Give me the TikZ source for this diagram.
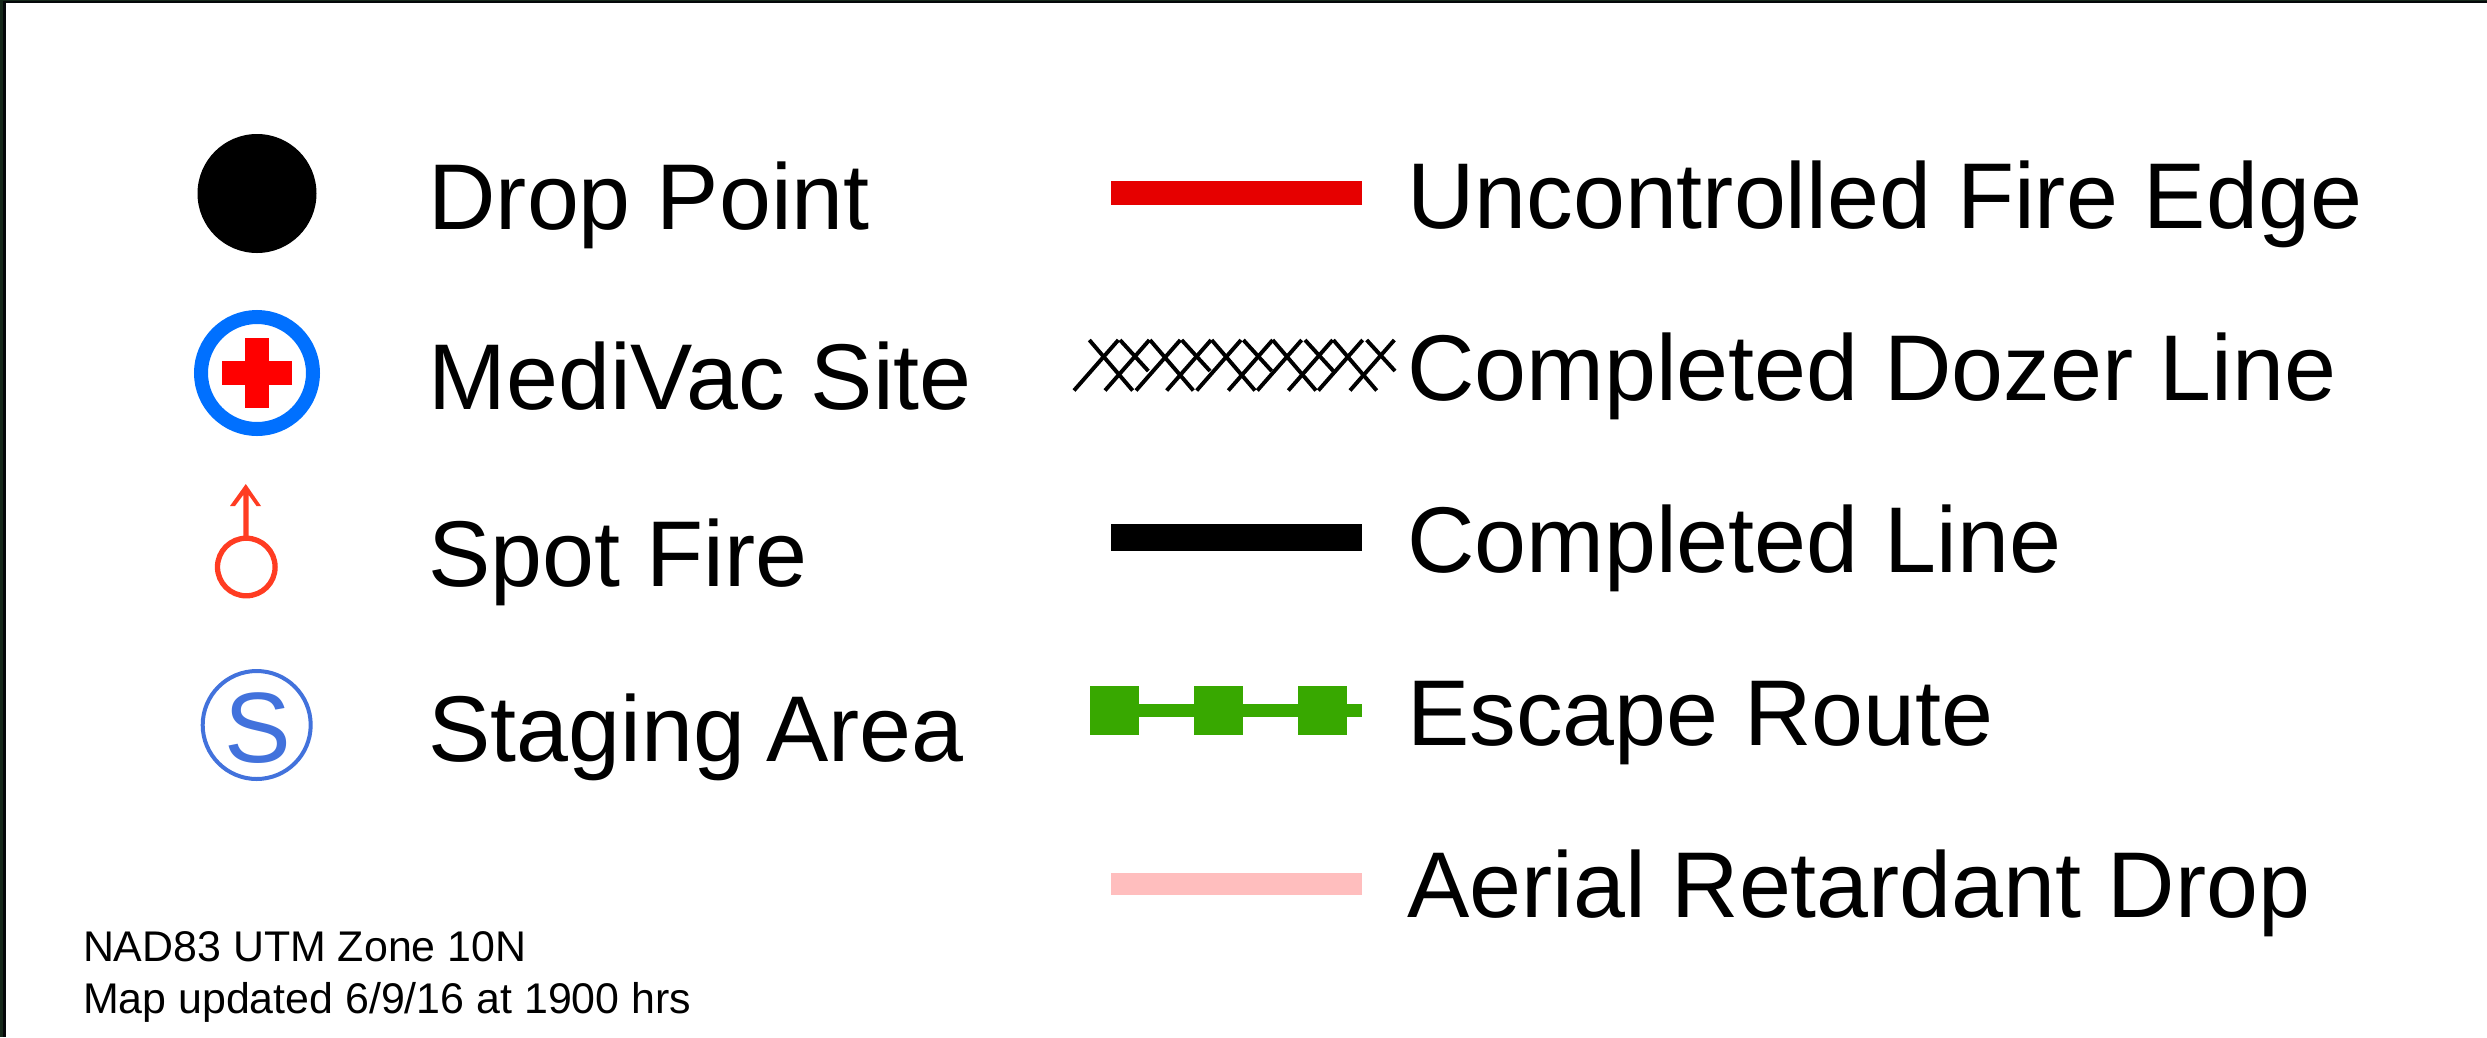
\documentclass[tikz,border=0pt]{standalone}
\usepackage{fontspec}
\setmainfont{Liberation Sans}
\definecolor{edgedark}{HTML}{05080A}
\definecolor{edgegreen}{HTML}{16291B}
\definecolor{medblue}{HTML}{0070FF}
\definecolor{crossred}{HTML}{FF0000}
\definecolor{spotred}{HTML}{FF3C22}
\definecolor{stageblue}{HTML}{4272DC}
\definecolor{fireline}{HTML}{E60000}
\definecolor{routegreen}{HTML}{38A800}
\definecolor{dropPink}{HTML}{FFBEBE}
\tikzset{
  biglabel/.style={anchor=base west,inner sep=0pt,outer sep=0pt,font=\fontsize{93.4pt}{100pt}\selectfont,text=black},
  smalllabel/.style={anchor=base west,inner sep=0pt,outer sep=0pt,font=\fontsize{42.9pt}{50pt}\selectfont,text=black},
  hatch/.style={black,line width=3.9pt,line cap=butt},
  routebox/.style={fill=routegreen,draw=none}
}
\begin{document}
\begin{tikzpicture}[x=1pt,y=-1pt]
\useasboundingbox (0,0) rectangle (2487,1037);
\fill[white] (0,0) rectangle (2487,1037);
\fill[edgedark] (0,0) rectangle (2487,3.3);
\fill[edgedark] (0,0) rectangle (6,1037);
\fill[edgegreen] (0,0) rectangle (3.2,1037);
\fill[edgegreen] (0,0) rectangle (2487,1);
% left symbols
\fill[black] (257,193.5) circle[radius=59.5];
\draw[medblue,line width=14pt] (257,373) circle[radius=56];
\fill[crossred] (245.3,338) rectangle (269,408);
\fill[crossred] (222,361.3) rectangle (292,384.7);
\draw[spotred,line width=5.3pt] (246.3,567) circle[radius=28.8];
\fill[spotred] (245.8,484) -- (261,506) -- (256.5,506) -- (248.7,495) -- (248.7,538) -- (243.3,538) -- (243.3,495) -- (235,506) -- (230,506) -- cycle;
\draw[stageblue,line width=4pt] (256.7,725) circle[radius=54];
\node[anchor=base,inner sep=0pt,text=stageblue,font=\fontsize{100pt}{100pt}\selectfont] (stageS) at (258,762) {S};
% left labels
\node[biglabel] (droplabel) at (428.5,229.5) {Drop Point};
\node[biglabel] (medilabel) at (428.5,409.5) {MediVac Site};
\node[biglabel] (spotlabel) at (428.5,586.5) {Spot Fire};
\node[biglabel] (stagelabel) at (428.5,761.5) {Staging\kern-5pt\ Area};
% line samples
\fill[fireline] (1110.5,181) rectangle (1361.7,205);
\foreach \a in {118,300,485,668,850}
  \draw[hatch] ({1050+\a/3},340) -- ({1050+(\a+130)/3},390.5);
\foreach \a in {210,395,580,765,950}
  \draw[hatch] ({1050+\a/3},340) -- ({1050+(\a+85)/3},371);
\foreach \a in {72,165,258,350,440,535,622,715,805,900}
  \draw[hatch] ({1050+\a/3},390.5) -- ({1050+(\a+133)/3},340);
\fill[black] (1110.5,524.3) rectangle (1361.7,551.3);
\fill[routegreen] (1090,704.3) rectangle (1361.7,716.7);
\fill[routebox] (1090,686) rectangle (1139,735);
\fill[routebox] (1194,686) rectangle (1243,735);
\fill[routebox] (1298,686) rectangle (1347,735);
\fill[dropPink] (1110.5,872.7) rectangle (1361.7,894.7);
% right labels
\node[biglabel] (firelabel) at (1407,228.5) {Uncontrolled Fire Edge};
\node[biglabel] (dozerlabel) at (1407,400.5) {Completed Dozer Line};
\node[biglabel] (linelabel) at (1407,572.5) {Completed Line};
\node[biglabel] (routelabel) at (1407,745.5) {Escape Route};
\node[biglabel] (aeriallabel) at (1407,917) {Aerial Retardant Drop};
% notes
\node[smalllabel] (datumlabel) at (83,961) {NAD83 UTM Zone 10N};
\node[smalllabel] (updatelabel) at (83,1013) {Map updated 6/9/16 at 1900 hrs};
\end{tikzpicture}
\end{document}
